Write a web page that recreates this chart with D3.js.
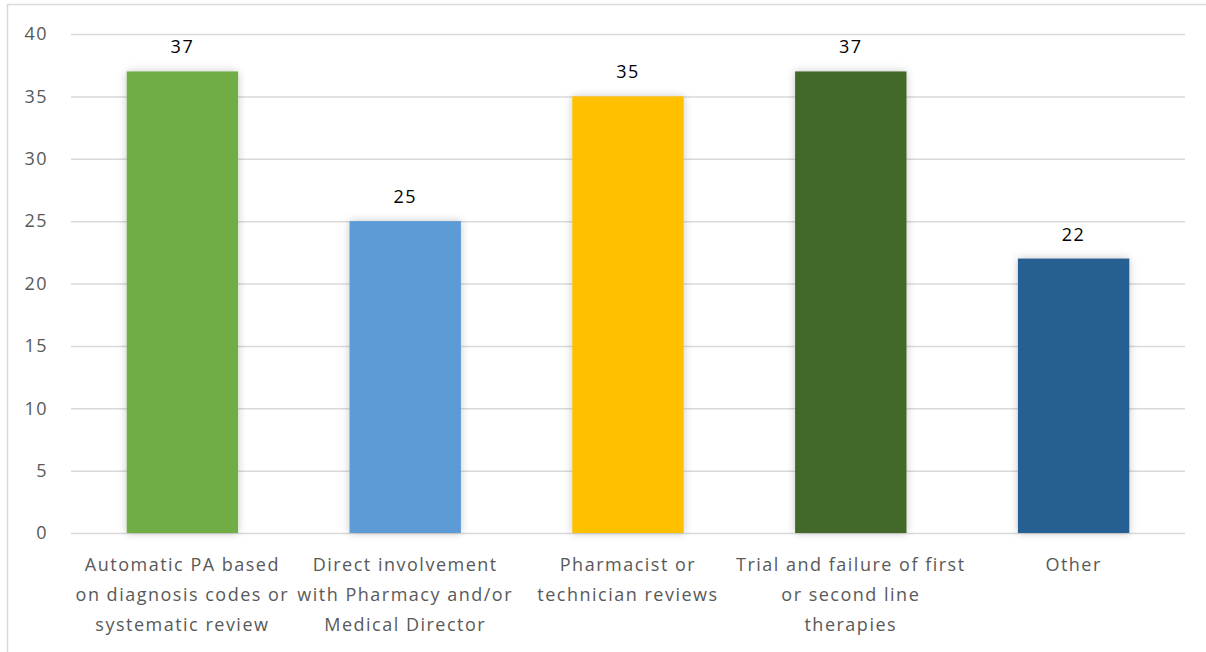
<!DOCTYPE html>
<html>
<head>
<meta charset="utf-8">
<script src="https://cdn.jsdelivr.net/npm/d3@7"></script>
<style>
  html, body { margin: 0; padding: 0; background: #fff; }
  svg { display: block; }
  text { font-family: "Open Sans", "Noto Sans", sans-serif; }
</style>
</head>
<body>
<svg id="chart" width="1206" height="652"></svg>
<script>
// Prior-authorization review approaches and number of responses
const categories = [
  ["Automatic PA based", "on diagnosis codes or", "systematic review"],
  ["Direct involvement", "with Pharmacy and/or", "Medical Director"],
  ["Pharmacist or", "technician reviews"],
  ["Trial and failure of first", "or second line", "therapies"],
  ["Other"]
];
const values = [37, 25, 35, 37, 22];
const colors = ["#70AD47", "#5B9BD5", "#FFC000", "#43682B", "#255E91"];
const yTicks = [0, 5, 10, 15, 20, 25, 30, 35, 40];

const svg = d3.select("#chart");
const W = 1206, H = 652;
const margin = { left: 71, right: 21, top: 34, bottom: 119 };

// chart frame (only top and left edges fall inside the view)
svg.append("rect")
  .attr("x", 7.5).attr("y", 4.5)
  .attr("width", W + 20).attr("height", H + 20)
  .attr("fill", "#fff").attr("stroke", "#d9d9d9").attr("stroke-width", 1.5);

const defs = svg.append("defs");
const f = defs.append("filter").attr("id", "shadow")
  .attr("x", "-20%").attr("y", "-20%").attr("width", "140%").attr("height", "140%");
f.append("feDropShadow").attr("dx", 0).attr("dy", 0).attr("stdDeviation", 4)
  .attr("flood-color", "#000").attr("flood-opacity", 0.22);

const x = d3.scaleBand()
  .domain(d3.range(values.length))
  .range([margin.left, W - margin.right])
  .paddingInner(0.5).paddingOuter(0.25);

const y = d3.scaleLinear().domain([0, 40]).range([H - margin.bottom, margin.top]);

// gridlines and y labels
const yAxis = d3.axisLeft(y).tickValues(yTicks)
  .tickSize(-(W - margin.left - margin.right)).tickPadding(23);
const gy = svg.append("g").attr("transform", `translate(${margin.left},0)`).call(yAxis);
gy.select(".domain").remove();
gy.selectAll(".tick line").attr("stroke", "#d9d9d9").attr("stroke-width", 1.5);
gy.selectAll(".tick text")
  .attr("fill", "#595959").style("font-size", "18px").style("letter-spacing", "1.5px");

// bars
svg.append("g").selectAll("rect").data(values).join("rect")
  .attr("x", (d, i) => x(i))
  .attr("y", d => y(d))
  .attr("width", x.bandwidth())
  .attr("height", d => y(0) - y(d))
  .attr("fill", (d, i) => colors[i])
  .attr("filter", "url(#shadow)");

// value labels
svg.append("g").selectAll("text").data(values).join("text")
  .attr("x", (d, i) => x(i) + x.bandwidth() / 2)
  .attr("y", d => y(d) - 18)
  .attr("text-anchor", "middle")
  .attr("fill", "#000")
  .style("font-size", "18px")
  .style("letter-spacing", "1.5px")
  .text(d => d);

// category labels
const cat = svg.append("g").selectAll("text").data(categories).join("text")
  .attr("text-anchor", "middle")
  .attr("fill", "#595959")
  .style("font-size", "18px")
  .style("letter-spacing", "1.5px")
  .attr("y", H - margin.bottom + 38);
cat.selectAll("tspan").data((d, i) => d.map(t => ({ t, i }))).join("tspan")
  .attr("x", d => x(d.i) + x.bandwidth() / 2)
  .attr("dy", (d, j) => j === 0 ? 0 : 30)
  .text(d => d.t);
</script>
</body>
</html>
